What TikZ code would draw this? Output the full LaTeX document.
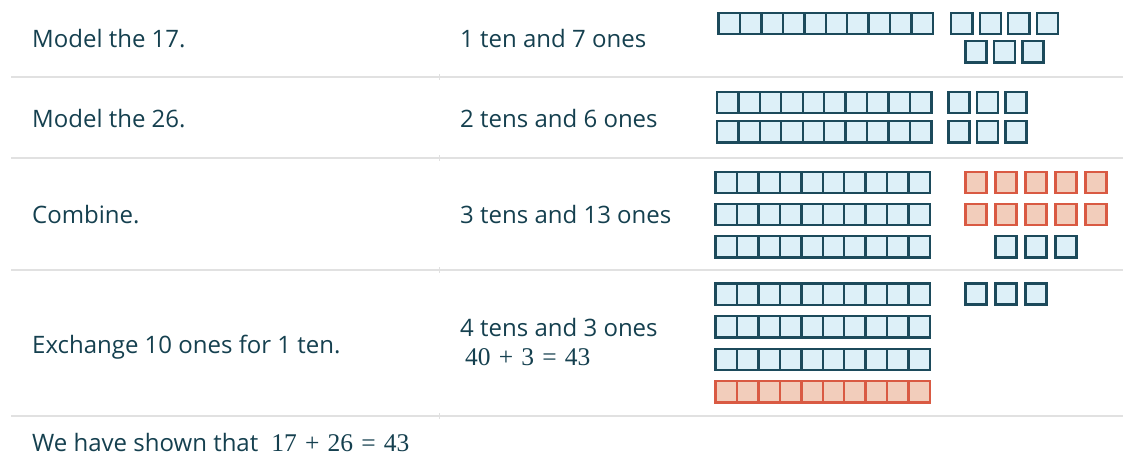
\documentclass[tikz,border=0pt]{standalone}
\usepackage{fontspec}
\setmainfont{Open Sans}
\newfontfamily\eqfont{Liberation Serif}

\definecolor{inkteal}{HTML}{15404F}
\definecolor{rulegray}{HTML}{E1E1E1}
\definecolor{blockline}{HTML}{1C4A5B}
\definecolor{blockfill}{HTML}{DDF0F8}
\definecolor{redline}{HTML}{D95A43}
\definecolor{redfill}{HTML}{F2CDBB}

\tikzset{
    txt/.style={anchor=base west, inner sep=0pt, text=inkteal, font=\fontsize{24}{29}\selectfont},
    bluecell/.style={draw=blockline, fill=blockfill, line width=2.4pt},
    redcell/.style={draw=redline, fill=redfill, line width=2.4pt},
    rowrule/.style={draw=rulegray, line width=2pt}
}

% 算式用衬线体，运算符两边留宽一点
\newcommand{\eqn}[1]{{\eqfont\fontsize{25.5}{29}\selectfont\spaceskip=0.32em\relax #1}}
% 十个小方块连成一根：#1 左边缘, #2 上边缘, #3 样式
\newcommand{\tenrod}[3]{%
    \foreach \c in {0,...,9}
        \draw[#3] ({#1+1.2+\c*21.45},{#2+1.2}) rectangle ++(21.45,21.3);
}
% 单个小方块
\newcommand{\onecube}[3]{%
    \draw[#3] ({#1+1.2},{#2+1.2}) rectangle ++(21.1,21.1);
}

\begin{document}
\begin{tikzpicture}[x=1pt, y=-1pt]
    % --- 画布大小 ---
    \useasboundingbox (0,0) rectangle (1123,469);

    % --- 表格横线 ---
    \foreach \y in {77,158,270,416} {
        \draw[rowrule] (11,\y) -- (1123,\y);
        \draw[rulegray, line width=0.6pt] (439,\y-3) -- (439,\y+3);
    }

    % --- 第一列：步骤 ---
    \node[txt] (model17) at (32,47) {Model the 17.};
    \node[txt] (model26) at (32,127.3) {Model the 26.};
    \node[txt] (combine) at (32,223.3) {Combine.};
    \node[txt] (exchange) at (32,353.3) {Exchange 10 ones for 1 ten.};
    \node[txt] (summary) at (32,451.7) {We have shown that\hspace{0.55em}\eqn{17 + 26 = 43}};

    % --- 第二列：十位和个位 ---
    \node[txt] (tens17) at (460,47) {1 ten and 7 ones};
    \node[txt] (tens26) at (460,127.3) {2 tens and 6 ones};
    \node[txt] (tens3x13) at (460,223.3) {3 tens and 13 ones};
    \node[txt] (tens43) at (460,336) {4 tens and 3 ones};
    \node[txt] (sum4043) at (465,365) {\eqn{40 + 3 = 43}};

    % --- 第三列：方块模型 ---
    % 17
    \tenrod{717.3}{11.7}{bluecell}
    \foreach \x in {950,978.5,1007,1035.5} {\onecube{\x}{11.7}{bluecell}}
    \foreach \x in {964.3,992.8,1021.3} {\onecube{\x}{40}{bluecell}}

    % 26
    \foreach \y in {90.7,120} {
        \tenrod{715.7}{\y}{bluecell}
        \foreach \x in {947.3,975.8,1004.3} {\onecube{\x}{\y}{bluecell}}
    }

    % 17 + 26 合在一起，红色为凑成十的个位
    \foreach \y in {170.7,202.7,235} {\tenrod{714.3}{\y}{bluecell}}
    \foreach \y in {170.7,202.7} {
        \foreach \x in {964.3,994.3,...,1084.3} {\onecube{\x}{\y}{redcell}}
    }
    \foreach \x in {994.3,1024.3,1054.3} {\onecube{\x}{235}{bluecell}}

    % 换成一根十：43
    \foreach \y in {282.3,315,347.7} {\tenrod{714.3}{\y}{bluecell}}
    \tenrod{714.3}{380}{redcell}
    \foreach \x in {964.3,994.3,1024.3} {\onecube{\x}{282.3}{bluecell}}

\end{tikzpicture}
\end{document}
